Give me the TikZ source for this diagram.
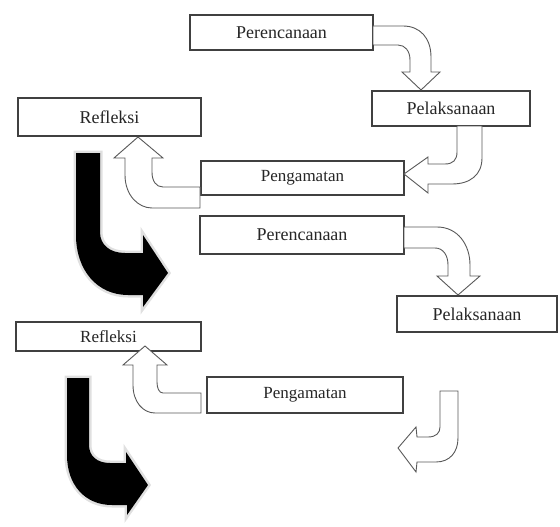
\documentclass[tikz,border=0pt]{standalone}
\usepackage{fontspec}
\setmainfont{Liberation Serif}
\begin{document}
\begin{tikzpicture}[x=1pt,y=-1pt,
  box/.style={draw=black!75,line width=1.2pt,fill=white,inner sep=0pt,
    font=\fontsize{18}{21}\selectfont,text=black!85},
  hollow/.style={draw=black!65,line width=0.9pt,fill=white,line join=miter},
  solid/.style={fill=black,preaction={draw=black!12,line width=5pt,line join=miter}}]
\useasboundingbox (0,0) rectangle (560,527);
% boxes
\node[box,minimum width=183pt,minimum height=35pt] (per1) at (281.5,32.5) {Perencanaan};
\node[box,minimum width=158pt,minimum height=35pt] (pel1) at (451,108.5) {Pelaksanaan};
\node[box,minimum width=203pt,minimum height=34pt,font=\fontsize{17}{20}\selectfont] (peng1) at (302.5,178) {Pengamatan};
\node[box,minimum width=183pt,minimum height=38pt] (ref1) at (109.5,117) {Refleksi};
\node[box,minimum width=204pt,minimum height=38pt] (per2) at (302,235) {Perencanaan};
\node[box,minimum width=160pt,minimum height=36pt] (pel2) at (477,314) {Pelaksanaan};
\node[box,minimum width=196pt,minimum height=36pt,font=\fontsize{17}{20}\selectfont] (peng2) at (305,395) {Pengamatan};
\node[box,minimum width=185pt,minimum height=29pt,font=\fontsize{17}{20}\selectfont] (ref2) at (108.5,336.5) {Refleksi};
% hollow block arrows
% per1 -> pel1
\draw[hollow] (373,26) -- (403,26) .. controls (420,26) and (431,38) .. (431,57) -- (431,72) -- (440,72) -- (421,90)
  -- (402,72) -- (410,72) -- (410,60) .. controls (410,51) and (405,45) .. (398,45) -- (373,45) -- cycle;
% pel1 -> peng1
\draw[hollow] (457,126) -- (482,126) -- (482,158) .. controls (482,175) and (470,184) .. (452,184) -- (428,184)
  -- (428,193) -- (404,174) -- (428,157) -- (428,164) -- (445,164) .. controls (453,164) and (457,160) .. (457,152) -- cycle;
% peng1 -> ref1
\draw[hollow] (200,187) -- (163,187) .. controls (156,187) and (152,181) .. (152,172) -- (152,158) -- (163,158)
  -- (138,137) -- (114,158) -- (125,158) -- (125,175) .. controls (125,195) and (138,208) .. (152,208) -- (200,208) -- cycle;
% per2 -> pel2
\draw[hollow] (404,227) -- (437,227) .. controls (458,227) and (470,245) .. (470,265) -- (470,276) -- (480,276)
  -- (458,295) -- (437,276) -- (448,276) -- (448,265) .. controls (448,255) and (443,248) .. (435,248) -- (404,248) -- cycle;
% peng2 -> ref2
\draw[hollow] (201,393) -- (163,393) .. controls (159,393) and (157,388) .. (157,382) -- (157,365) -- (167,365)
  -- (145,346) -- (123,365) -- (133,365) -- (133,385) .. controls (133,402) and (143,413) .. (155,413) -- (201,413) -- cycle;
% loose arrow bottom right
\draw[hollow] (440,391) -- (458,391) -- (458,438) .. controls (458,452) and (450,462) .. (436,462) -- (417,462)
  -- (416,472) -- (398,448) -- (416,427) -- (417,437) -- (428,437) .. controls (436,437) and (440,433) .. (440,427) -- cycle;
% black arrows
\path[solid] (76,153) -- (100,153) -- (100,232) .. controls (100,245) and (110,253) .. (125,253) -- (143,253)
  -- (143,235) -- (168,273) -- (143,307) -- (143,295) -- (128,295) .. controls (97,295) and (76,270) .. (76,235) -- cycle;
\path[solid] (67,378) -- (89,378) -- (89,445) .. controls (89,456) and (97,463) .. (110,463) -- (126,463)
  -- (126,452) -- (148,485) -- (127,515) -- (127,505) -- (112,505) .. controls (85,505) and (67,485) .. (67,455) -- cycle;
\end{tikzpicture}
\end{document}
